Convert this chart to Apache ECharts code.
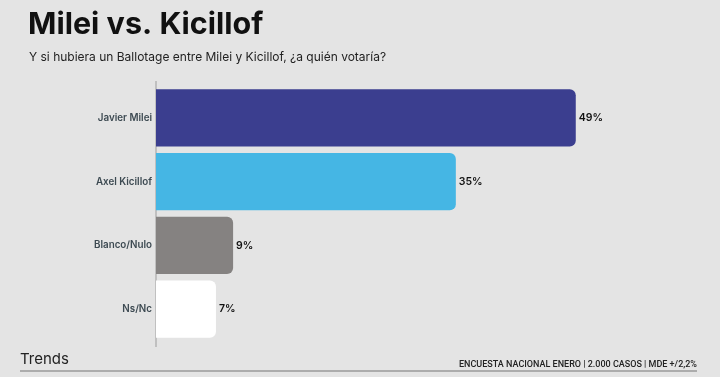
<!DOCTYPE html>
<html><head><meta charset="utf-8">
<script src="https://cdn.jsdelivr.net/npm/echarts@6/dist/echarts.min.js"></script>
<style>html,body{margin:0;padding:0;background:#e4e4e4;}#c{width:720px;height:377px;}</style>
</head><body><div id="c"></div>
<script>
const categories = ["Javier Milei", "Axel Kicillof", "Blanco/Nulo", "Ns/Nc"];
const values = [49, 35, 9, 7];
const barColors = ["#3b3e8f", "#45b6e4", "#858281", "#ffffff"];
const titleText = "Milei vs. Kicillof";
const subtitleText = "Y si hubiera un Ballotage entre Milei y Kicillof, ¿a quién votaría?";
const brandText = "Trends";
const sourceText = "ENCUESTA NACIONAL ENERO | 2.000 CASOS | MDE +/2,2%";

const chart = echarts.init(document.getElementById('c'), null, {renderer: 'canvas'});
chart.setOption({
  backgroundColor: '#e4e4e4',
  animation: false,
  title: [
    {text: titleText, left: 28, top: 9, padding: 0, textStyle: {fontFamily: 'Inter', fontWeight: 'bold', fontSize: 30.5, color: '#111'}},
    {text: subtitleText, left: 29, top: 51, padding: 0, textStyle: {fontFamily: 'Inter', fontWeight: 'normal', fontSize: 12, color: '#222'}},
    {text: brandText, left: 20, top: 352, padding: 0, textStyle: {fontFamily: 'Inter', fontWeight: 'normal', fontSize: 15, color: '#222'}},
    {text: sourceText, right: 23, top: 360, padding: 0, textStyle: {fontFamily: 'Roboto', fontWeight: 500, fontSize: 9, color: '#222'}}
  ],
  graphic: [
    {type: 'line', shape: {x1: 20, y1: 371, x2: 697, y2: 371}, style: {stroke: '#9a9a9a', lineWidth: 1.5}},
    {type: 'line', shape: {x1: 156, y1: 81, x2: 156, y2: 347}, style: {stroke: '#b5b5b5', lineWidth: 1.5}}
  ],
  grid: {left: 156, top: 86, width: 514, height: 255, containLabel: false},
  xAxis: {type: 'value', min: 0, max: 60, show: false},
  yAxis: {
    type: 'category', data: categories, inverse: true,
    axisLine: {show: false},
    axisTick: {show: false},
    axisLabel: {margin: 4, fontFamily: 'Inter', fontWeight: 600, fontSize: 9.8, color: '#3d4a52'}
  },
  series: [{
    type: 'bar',
    data: values.map((v, i) => ({value: v, itemStyle: {color: barColors[i]}})),
    barCategoryGap: '10%',
    itemStyle: {borderRadius: [0, 6, 6, 0]},
    label: {show: true, position: 'right', distance: 3, formatter: '{c}%', fontFamily: 'Inter', fontWeight: 600, fontSize: 10.5, color: '#111'}
  }]
});
</script></body></html>
